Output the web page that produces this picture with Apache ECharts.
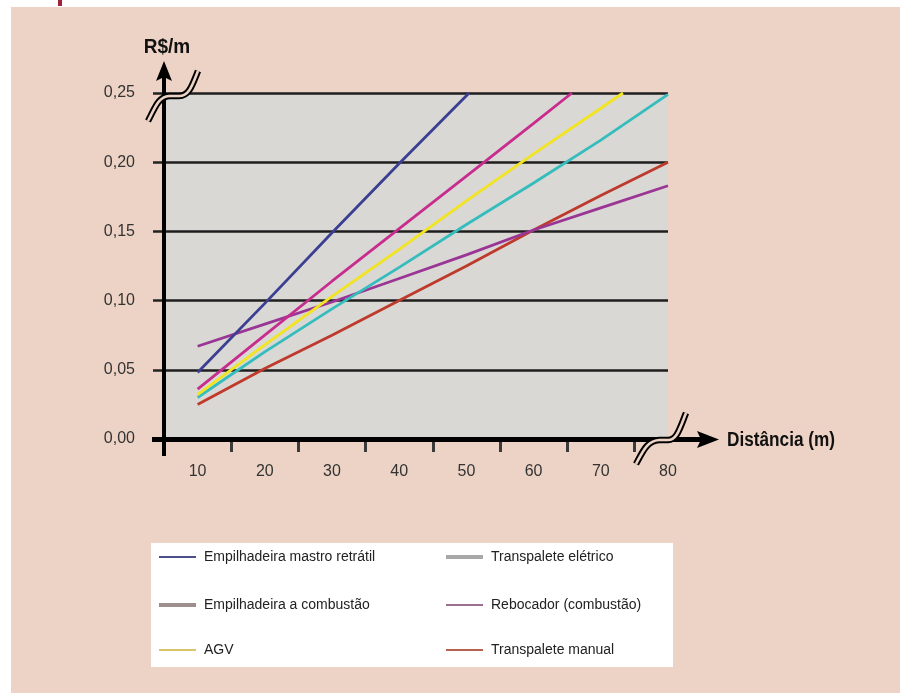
<!DOCTYPE html>
<html>
<head>
<meta charset="utf-8">
<script src="https://cdn.jsdelivr.net/npm/echarts@6/dist/echarts.min.js"></script>
<style>
  html, body { margin: 0; padding: 0; background: #ffffff; }
  #bg { position: absolute; left: 11px; top: 7px; width: 889px; height: 686px; background: #EDD3C5; }
  #chart { position: absolute; left: 0; top: 0; width: 903px; height: 693px; }
</style>
</head>
<body>
<div id="bg"></div>
<div id="chart"></div>
<script>
// ---- data ----
const seriesNames = [
  'Empilhadeira mastro retrátil',
  'Transpalete elétrico',
  'Empilhadeira a combustão',
  'Rebocador (combustão)',
  'AGV',
  'Transpalete manual'
];
// [distance (m), cost R$/m]
const mastroRetratil = [[10, 0.048], [20, 0.098], [30, 0.149], [40, 0.199], [50.4, 0.25]];
const empCombustao   = [[10, 0.036], [20, 0.075], [30, 0.114], [40, 0.152], [50, 0.190], [60, 0.228], [65.7, 0.25]];
const agv            = [[10, 0.032], [20, 0.068], [30, 0.103], [40, 0.137], [50, 0.172], [60, 0.206], [70, 0.239], [73.3, 0.25]];
const transEletrico  = [[10, 0.030], [20, 0.063], [30, 0.094], [40, 0.124], [50, 0.155], [60, 0.185], [70, 0.216], [80, 0.249]];
const transManual    = [[10, 0.025], [20, 0.051], [30, 0.075], [40, 0.100], [50, 0.125], [60, 0.151], [70, 0.176], [80, 0.200]];
const rebocador      = [[10, 0.067], [20, 0.083], [30, 0.099], [40, 0.116], [50, 0.133], [60, 0.151], [70, 0.167], [80, 0.183]];

const xLabelValues = [10, 20, 30, 40, 50, 60, 70, 80];
const xTickValues  = [15, 25, 35, 45, 55, 65, 75];
const yAxisTitle = 'R$/m';
const xAxisTitle = 'Distância (m)';

// ---- styles ----
const FONT = "'Liberation Sans', Arial, sans-serif";
const BG = '#EDD3C5';
const lineColors = {
  'Empilhadeira mastro retrátil': '#3A3F92',
  'Transpalete elétrico': '#35BDBE',
  'Empilhadeira a combustão': '#C72C8E',
  'Rebocador (combustão)': '#9B3595',
  'AGV': '#F2E420',
  'Transpalete manual': '#BE3A2C'
};
const legendStyle = {
  'Empilhadeira mastro retrátil': { color: '#4B5088', h: 2 },
  'Transpalete elétrico': { color: '#A8A8A8', h: 4 },
  'Empilhadeira a combustão': { color: '#9E8E8E', h: 4 },
  'Rebocador (combustão)': { color: '#9A6F92', h: 2 },
  'AGV': { color: '#D8C56A', h: 2 },
  'Transpalete manual': { color: '#B8624E', h: 2 }
};
const legendPos = {
  'Empilhadeira mastro retrátil': [159, 557],
  'Empilhadeira a combustão': [159, 605],
  'AGV': [159, 650],
  'Transpalete elétrico': [446, 557],
  'Rebocador (combustão)': [446, 605],
  'Transpalete manual': [446, 650]
};
const seriesData = {
  'Empilhadeira mastro retrátil': mastroRetratil,
  'Transpalete elétrico': transEletrico,
  'Empilhadeira a combustão': empCombustao,
  'Rebocador (combustão)': rebocador,
  'AGV': agv,
  'Transpalete manual': transManual
};
const drawOrder = ['Transpalete manual', 'Rebocador (combustão)', 'Transpalete elétrico', 'AGV', 'Empilhadeira a combustão', 'Empilhadeira mastro retrátil'];

const chart = echarts.init(document.getElementById('chart'), null, { renderer: 'canvas' });

const legends = seriesNames.map(function (name) {
  const s = legendStyle[name];
  const p = legendPos[name];
  return {
    left: p[0],
    top: p[1] - 10,
    padding: 0,
    orient: 'vertical',
    selectedMode: false,
    itemWidth: 37,
    itemHeight: s.h,
    icon: 'rect',
    itemStyle: { borderWidth: 0 },
    textStyle: { fontFamily: FONT, fontSize: 14, color: '#222', lineHeight: 20, padding: [0, 0, 0, 3] },
    data: [{ name: name, itemStyle: { color: s.color, borderWidth: 0 } }]
  };
});

const series = drawOrder.map(function (name) {
  return {
    name: name,
    type: 'line',
    data: seriesData[name],
    symbol: 'none',
    showSymbol: false,
    smooth: false,
    lineStyle: { width: 2.8, color: lineColors[name] },
    itemStyle: { color: lineColors[name] },
    z: 3
  };
});

// axis-break decorations: curve, straight, curve
function breakPieces(p, stroke, width, z) {
  return [
    { type: 'bezierCurve', shape: p.c1, style: { stroke: stroke, lineWidth: width, fill: null }, z: z },
    { type: 'line', shape: p.l, style: { stroke: stroke, lineWidth: width }, z: z },
    { type: 'bezierCurve', shape: p.c2, style: { stroke: stroke, lineWidth: width, fill: null }, z: z }
  ];
}
const yBreak = {
  c1: { x1: 148, y1: 121, cpx1: 155, cpy1: 108, cpx2: 158, cpy2: 97, x2: 169, y2: 96 },
  l: { x1: 169, y1: 96, x2: 179, y2: 96 },
  c2: { x1: 179, y1: 96, cpx1: 189, cpy1: 96, cpx2: 192, cpy2: 86, x2: 198, y2: 71 }
};
const xBreak = {
  c1: { x1: 636, y1: 464, cpx1: 643, cpy1: 451, cpx2: 647, cpy2: 441, x2: 659, y2: 440 },
  l: { x1: 659, y1: 440, x2: 668, y2: 440 },
  c2: { x1: 668, y1: 440, cpx1: 677, cpy1: 440, cpx2: 680, cpy2: 428, x2: 686, y2: 413 }
};

const graphics = [
  { type: 'rect', shape: { x: 58, y: 0, width: 4, height: 6 }, style: { fill: '#A3203C' }, z: 1 },
  { type: 'rect', shape: { x: 151, y: 543, width: 522, height: 124 }, style: { fill: '#ffffff' }, z: 1 },
  { type: 'line', shape: { x1: 164, y1: 456, x2: 164, y2: 76 }, style: { stroke: '#000', lineWidth: 4 }, z: 20 },
  { type: 'polygon', shape: { points: [[156, 81], [164, 61], [172, 81], [164, 77]] }, style: { fill: '#000' }, z: 20 },
  { type: 'line', shape: { x1: 152, y1: 439.5, x2: 702, y2: 439.5 }, style: { stroke: '#000', lineWidth: 5 }, z: 20 },
  { type: 'polygon', shape: { points: [[697, 431], [719, 439.5], [697, 448], [701, 439.5]] }, style: { fill: '#000' }, z: 20 },
  { type: 'text', x: 167, y: 47, scaleX: 0.95, style: { text: yAxisTitle, fontFamily: FONT, fontSize: 20, fontWeight: 'bold', fill: '#111', align: 'center', verticalAlign: 'middle' }, z: 20 },
  { type: 'text', x: 727, y: 440, scaleX: 0.86, style: { text: xAxisTitle, fontFamily: FONT, fontSize: 20, fontWeight: 'bold', fill: '#111', align: 'left', verticalAlign: 'middle' }, z: 20 }
].concat(
  breakPieces(yBreak, '#000', 6.5, 21), breakPieces(yBreak, BG, 2.6, 22),
  breakPieces(xBreak, '#000', 6.5, 21), breakPieces(xBreak, BG, 2.6, 22)
);

const option = {
  backgroundColor: 'transparent',
  animation: false,
  grid: {
    left: 164, right: 235, top: 93, bottom: 254,
    show: true, backgroundColor: '#D9D8D4', borderWidth: 0
  },
  legend: legends,
  xAxis: {
    type: 'value',
    min: 5, max: 80,
    axisLine: { show: false },
    splitLine: { show: false },
    axisTick: { show: true, customValues: xTickValues, length: 13, lineStyle: { color: '#3a3a3a', width: 3 } },
    axisLabel: { customValues: xLabelValues, fontFamily: FONT, fontSize: 16, color: '#333', margin: 25 }
  },
  yAxis: {
    type: 'value',
    min: 0, max: 0.25, interval: 0.05,
    axisLine: { show: false },
    axisTick: { show: true, length: 11, lineStyle: { color: '#222', width: 2.5 } },
    splitLine: { show: true, lineStyle: { color: '#1E1E1E', width: 2.5 } },
    axisLabel: {
      fontFamily: FONT, fontSize: 16, color: '#333', margin: 29,
      formatter: function (v) { return v.toFixed(2).replace('.', ','); }
    }
  },
  graphic: graphics,
  series: series
};

chart.setOption(option);
</script>
</body>
</html>
